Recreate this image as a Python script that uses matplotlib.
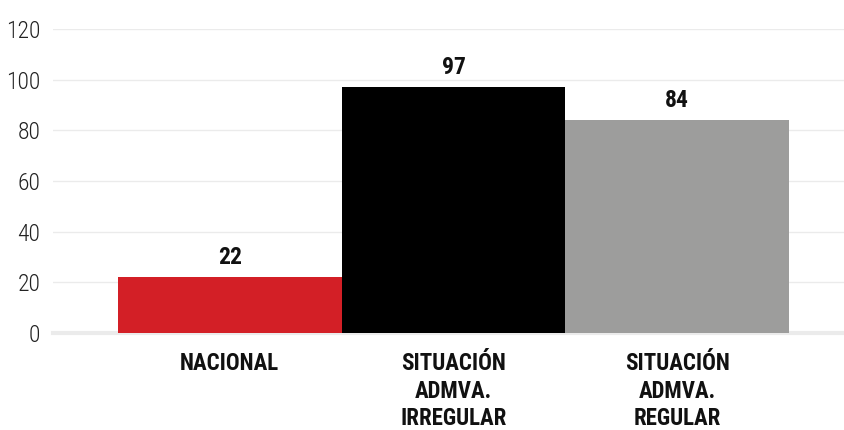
import matplotlib.pyplot as plt

categories = ["NACIONAL", "SITUACIÓN\nADMVA.\nIRREGULAR", "SITUACIÓN\nADMVA.\nREGULAR"]
values = [22, 97, 84]
colors = ["#d31f26", "#000000", "#9d9d9c"]
yticks = [0, 20, 40, 60, 80, 100, 120]

plt.rcParams['font.family'] = ['Roboto Condensed', 'Liberation Sans Narrow',
                               'Liberation Sans', 'DejaVu Sans']

fig = plt.figure(figsize=(8.45, 4.30), dpi=100)
ax = fig.add_axes([53 / 845, 1 - 333 / 430, 1 - 53 / 845, (333 - 29) / 430])

x = list(range(len(categories)))
bars = ax.bar(x, values, width=1.0, color=colors, zorder=2)
ax.bar_label(bars, labels=[str(v) for v in values], padding=6,
             fontsize=17, fontweight='bold', color='#111111')

ax.set_xlim(-0.79, 2.75)
ax.set_ylim(0, 120)
ax.set_yticks(yticks)
ax.set_yticklabels([str(t) for t in yticks], fontsize=17, fontweight='light',
                   color='#222222')
ax.set_xticks(x)
ax.set_xticklabels(categories, fontsize=16.5, fontweight='bold', color='#111111',
                   linespacing=1.25, va='top')

ax.grid(axis='y', color='#ebebeb', linewidth=1, zorder=0)
ax.axhline(0, color='#ebebeb', linewidth=3, zorder=1, clip_on=False)
ax.tick_params(axis='both', length=0)
ax.tick_params(axis='y', pad=9)
ax.tick_params(axis='x', pad=14)
for s in ax.spines.values():
    s.set_visible(False)

fig.savefig("out.png", dpi=100)
